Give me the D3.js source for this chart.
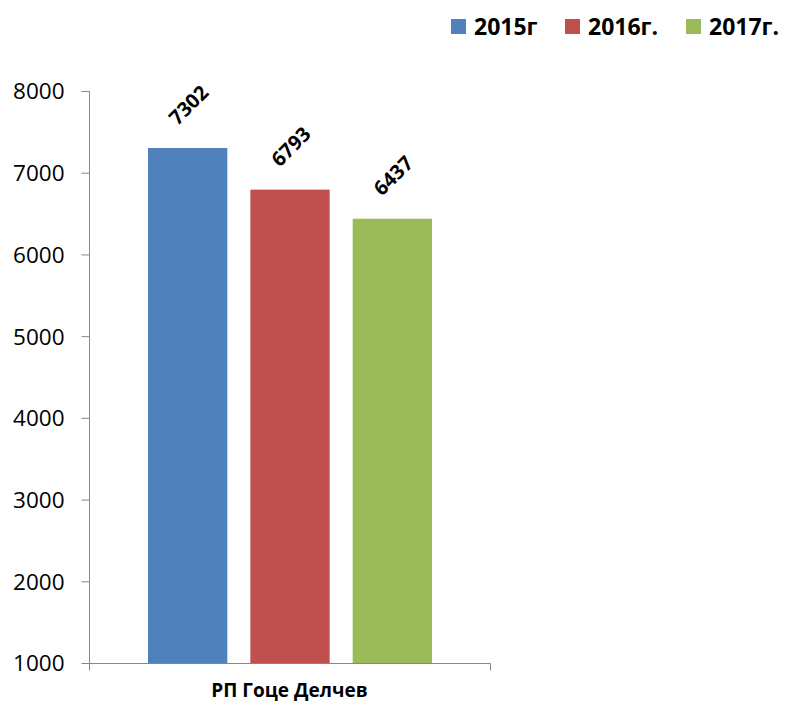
<!DOCTYPE html>
<html><head><meta charset="utf-8">
<script src="https://cdn.jsdelivr.net/npm/d3@7"></script>
<style>body{margin:0;background:#fff;}svg{display:block;}</style>
</head><body>
<script>
const categories = ["РП Гоце Делчев"];
const seriesNames = ["2015г", "2016г.", "2017г."];
const seriesValues = [7302, 6793, 6437];
const seriesColors = ["#4F81BD", "#C0504D", "#9BBB59"];
const yTicks = [1000, 2000, 3000, 4000, 5000, 6000, 7000, 8000];

const W = 785, H = 704;
const svg = d3.select("body").append("svg").attr("width", W).attr("height", H);
const font = "'Open Sans', 'Noto Sans', sans-serif";

const y = d3.scaleLinear().domain([1000, 8000]).range([663, 91]);
const x0 = d3.scaleBand().domain(categories).range([89, 490]);
const x1 = d3.scaleBand().domain(seriesNames).range([148, 432]).paddingInner(0.225);

// y axis
const yAxis = d3.axisLeft(y).tickValues(yTicks).tickSize(8).tickPadding(17).tickFormat(d3.format("d"));
const gy = svg.append("g").attr("transform", "translate(89.5,0)").call(yAxis);
gy.select(".domain").attr("stroke", "#868686").attr("d", "M-8,91.5H0V663.5");
gy.selectAll(".tick line").attr("stroke", "#868686");
gy.selectAll(".tick text").attr("font-family", font).attr("font-size", 22.5).attr("fill", "#000").attr("dy", "0.35em");

// x axis
const xAxis = d3.axisBottom(x0).tickSize(0).tickFormat("");
const gx = svg.append("g").attr("transform", "translate(0,663.5)").call(xAxis);
gx.select(".domain").attr("stroke", "#868686").attr("d", "M89.5,7V0H490.5V7");

// bars
const bars = seriesNames.map((s, i) => ({name: s, value: seriesValues[i], color: seriesColors[i]}));
svg.selectAll("rect.bar").data(bars).enter().append("rect")
  .attr("class", "bar")
  .attr("x", d => x1(d.name))
  .attr("width", x1.bandwidth())
  .attr("y", d => y(d.value))
  .attr("height", d => y(1000) - y(d.value))
  .attr("fill", d => d.color);

// data labels
svg.selectAll("text.lbl").data(bars).enter().append("text")
  .attr("class", "lbl")
  .attr("transform", d => `translate(${x1(d.name) + x1.bandwidth()/2 + 1},${y(d.value) - 43}) rotate(-45)`)
  .attr("text-anchor", "middle").attr("dy", "0.35em")
  .attr("font-family", font).attr("font-weight", "bold").attr("font-size", 20)
  .text(d => d.value);

// category label
svg.append("text").attr("x", x0(categories[0]) + x0.bandwidth()/2).attr("y", 697)
  .attr("text-anchor", "middle").attr("font-family", font).attr("font-weight", "bold").attr("font-size", 19)
  .text(categories[0]);

// legend
const legX = [451, 565, 686];
const lg = svg.selectAll("g.leg").data(bars).enter().append("g").attr("class", "leg")
  .attr("transform", (d, i) => `translate(${legX[i]},19)`);
lg.append("rect").attr("width", 15).attr("height", 15).attr("fill", d => d.color);
lg.append("text").attr("x", 23).attr("y", 15.5).attr("font-family", font).attr("font-weight", "bold").attr("font-size", 23)
  .text(d => d.name);
</script>
</body></html>
